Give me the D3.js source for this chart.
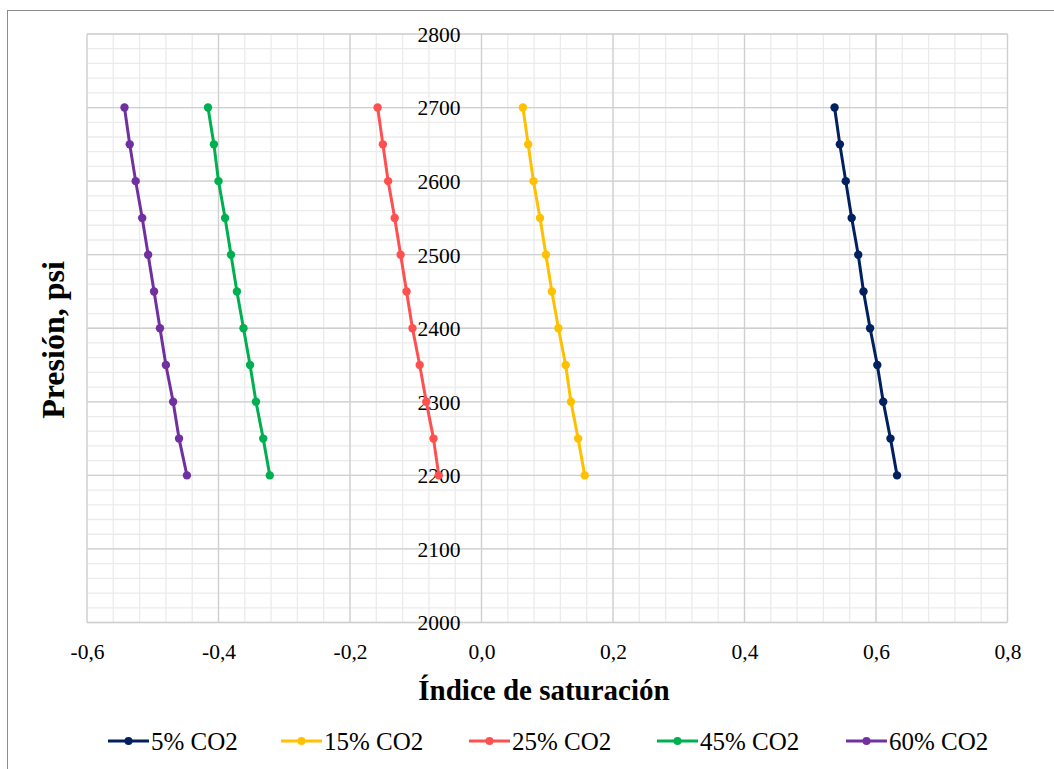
<!DOCTYPE html>
<html>
<head>
<meta charset="utf-8">
<script src="https://cdn.jsdelivr.net/npm/d3@7/dist/d3.min.js"></script>
<style>
  html, body { margin: 0; padding: 0; background: #fff; }
  svg { display: block; }
</style>
</head>
<body>
<svg id="chart" width="1054" height="769"></svg>
<script>
// Pressure steps shared by every series (psi)
const pressures = [2700, 2650, 2600, 2550, 2500, 2450, 2400, 2350, 2300, 2250, 2200];

// Saturation index per CO2 fraction, one value per pressure step
const si05 = [0.537, 0.545, 0.554, 0.563, 0.573, 0.581, 0.591, 0.602, 0.611, 0.622, 0.632];
const si15 = [0.063, 0.071, 0.079, 0.089, 0.098, 0.107, 0.117, 0.128, 0.136, 0.147, 0.157];
const si25 = [-0.158, -0.150, -0.142, -0.132, -0.123, -0.114, -0.105, -0.094, -0.084, -0.073, -0.065];
const si45 = [-0.416, -0.407, -0.400, -0.390, -0.381, -0.372, -0.362, -0.352, -0.343, -0.332, -0.322];
const si60 = [-0.543, -0.535, -0.526, -0.516, -0.507, -0.498, -0.489, -0.480, -0.469, -0.460, -0.448];

const seriesNames = ["5% CO2", "15% CO2", "25% CO2", "45% CO2", "60% CO2"];
const seriesColors = ["#002060", "#FFC000", "#FF5050", "#00B050", "#7030A0"];
const seriesValues = [si05, si15, si25, si45, si60];

const xTicks = [-0.6, -0.4, -0.2, 0.0, 0.2, 0.4, 0.6, 0.8];
const yTicks = [2000, 2100, 2200, 2300, 2400, 2500, 2600, 2700, 2800];
const xTitle = "Índice de saturación";
const yTitle = "Presión, psi";

const SERIF = "'Liberation Serif', 'Times New Roman', serif";
const svg = d3.select("#chart");

// outer chart frame
svg.append("rect")
  .attr("x", 7.5).attr("y", 10.5)
  .attr("width", 1060).attr("height", 780)
  .attr("fill", "none").attr("stroke", "#8c8c8c").attr("stroke-width", 1);

const x = d3.scaleLinear().domain([-0.6, 0.8]).range([87, 1007.5]);
const y = d3.scaleLinear().domain([2000, 2800]).range([622.5, 34]);

// minor gridlines
const grid = svg.append("g");
const xMinor = d3.range(-0.6, 0.8001, 0.04).map(v => +v.toFixed(2));
const yMinor = d3.range(2000, 2801, 20);
grid.selectAll("line.xm").data(xMinor).join("line")
  .attr("x1", d => x(d)).attr("x2", d => x(d))
  .attr("y1", y(2000)).attr("y2", y(2800))
  .attr("stroke", "#ebebeb").attr("stroke-width", 1.3);
grid.selectAll("line.ym").data(yMinor).join("line")
  .attr("x1", x(-0.6)).attr("x2", x(0.8))
  .attr("y1", d => y(d)).attr("y2", d => y(d))
  .attr("stroke", "#ebebeb").attr("stroke-width", 1.3);

// major gridlines
grid.selectAll("line.xM").data(xTicks).join("line")
  .attr("x1", d => x(d)).attr("x2", d => x(d))
  .attr("y1", y(2000)).attr("y2", y(2800))
  .attr("stroke", "#cfcfcf").attr("stroke-width", 1.3);
grid.selectAll("line.yM").data(yTicks).join("line")
  .attr("x1", x(-0.6)).attr("x2", x(0.8))
  .attr("y1", d => y(d)).attr("y2", d => y(d))
  .attr("stroke", "#cfcfcf").attr("stroke-width", 1.3);

// y axis sits at x = 0
const yAxis = d3.axisLeft(y).tickValues(yTicks).tickSize(0).tickPadding(21)
  .tickFormat(d3.format("d"));
const gy = svg.append("g").attr("transform", `translate(${x(0)},0)`).call(yAxis)
  .attr("font-family", SERIF);
gy.select(".domain").remove();
gy.selectAll("text")
  .style("font-family", SERIF).style("font-size", "21.5px")
  .attr("dy", "0.34em").attr("fill", "#000");

// x axis along the bottom edge
const fmtComma = d => d3.format(".1f")(d).replace(".", ",").replace("−", "-");
const xAxis = d3.axisBottom(x).tickValues(xTicks).tickSize(0).tickPadding(21)
  .tickFormat(fmtComma);
const gx = svg.append("g").attr("transform", `translate(0,${y(2000)})`).call(xAxis)
  .attr("font-family", SERIF);
gx.select(".domain").remove();
gx.selectAll("text")
  .style("font-family", SERIF).style("font-size", "21.5px").attr("fill", "#000");

// series lines and markers
const line = d3.line().x(d => x(d.v)).y(d => y(d.p));
seriesValues.forEach((vals, i) => {
  const pts = vals.map((v, j) => ({ v, p: pressures[j] }));
  const g = svg.append("g");
  g.append("path").datum(pts)
    .attr("d", line).attr("fill", "none")
    .attr("stroke", seriesColors[i]).attr("stroke-width", 3)
    .attr("stroke-linejoin", "round");
  g.selectAll("circle").data(pts).join("circle")
    .attr("cx", d => x(d.v)).attr("cy", d => y(d.p)).attr("r", 4.2)
    .attr("fill", seriesColors[i]);
});

// axis titles
svg.append("text")
  .attr("x", 544).attr("y", 700)
  .attr("text-anchor", "middle")
  .style("font-family", SERIF).style("font-size", "29px").style("font-weight", "bold")
  .text(xTitle);
svg.append("text")
  .attr("transform", "translate(64,340) rotate(-90)")
  .attr("text-anchor", "middle")
  .style("font-family", SERIF).style("font-size", "32px").style("font-weight", "bold")
  .text(yTitle);

// legend
const legendX = [108, 281, 469, 657, 846];
const legend = svg.append("g");
seriesNames.forEach((name, i) => {
  const lg = legend.append("g").attr("transform", `translate(${legendX[i]},741)`);
  lg.append("line").attr("x1", 0).attr("x2", 41).attr("y1", 0).attr("y2", 0)
    .attr("stroke", seriesColors[i]).attr("stroke-width", 3);
  lg.append("circle").attr("cx", 20.5).attr("cy", 0).attr("r", 4)
    .attr("fill", seriesColors[i]);
  lg.append("text").attr("x", 43).attr("y", 0).attr("dy", "0.34em")
    .style("font-family", SERIF).style("font-size", "25px").attr("fill", "#000")
    .text(name);
});
</script>
</body>
</html>
